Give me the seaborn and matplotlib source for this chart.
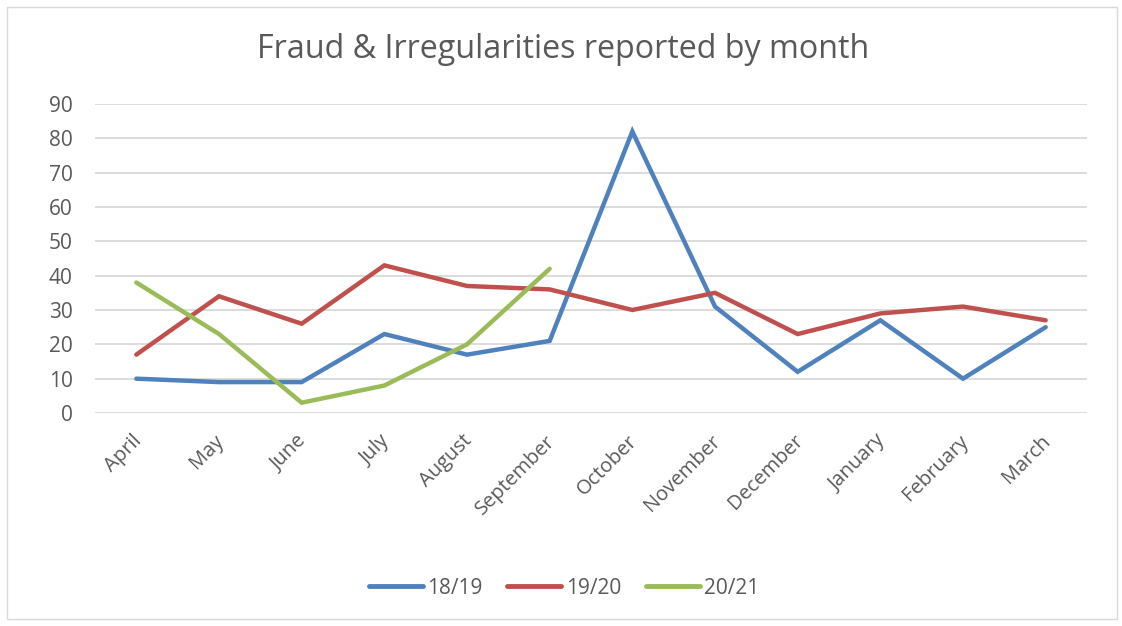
import matplotlib
matplotlib.use("Agg")
import matplotlib.pyplot as plt
import matplotlib.transforms as mtransforms
import seaborn as sns
import pandas as pd
import numpy as np
from matplotlib.patches import Rectangle

months = ["April", "May", "June", "July", "August", "September", "October",
          "November", "December", "January", "February", "March"]
s1819 = [10, 9, 9, 23, 17, 21, 82, 31, 12, 27, 10, 25]
s1920 = [17, 34, 26, 43, 37, 36, 30, 35, 23, 29, 31, 27]
s2021 = [38, 23, 3, 8, 20, 42]
series_names = ["18/19", "19/20", "20/21"]
colors = ["#4F81BD", "#C0504D", "#9BBB59"]
yticks = [0, 10, 20, 30, 40, 50, 60, 70, 80, 90]
title = "Fraud & Irregularities reported by month"

rows = []
for name, vals in zip(series_names, [s1819, s1920, s2021]):
    for m, v in zip(months, vals):
        rows.append({"Month": m, "Value": v, "Series": name})
df = pd.DataFrame(rows)
df["Month"] = pd.Categorical(df["Month"], categories=months, ordered=True)
df["x"] = df["Month"].cat.codes

sns.set_theme(style="white")
plt.rcParams["font.family"] = ["Open Sans", "DejaVu Sans"]

fig = plt.figure(figsize=(11.22, 6.26), dpi=100)
ax = fig.add_axes([95/1122, 1-413/626, 992/1122, 309/626])

sns.lineplot(data=df, x="x", y="Value", hue="Series", hue_order=series_names,
             palette=colors, linewidth=3.2, ax=ax, sort=True, legend=True,
             solid_capstyle="round", solid_joinstyle="miter")

ax.set_xlim(-0.5, 11.5)
ax.set_ylim(0, 90)
ax.set_yticks(yticks)
ax.set_xticks(range(len(months)))
ax.set_xticklabels(months, rotation=45, ha="right", rotation_mode="anchor",
                   fontsize=14.5, color="#595959")
ax.tick_params(axis="y", labelsize=15, labelcolor="#595959", length=0, pad=16)
ax.tick_params(axis="x", length=0, pad=13)
offset = mtransforms.ScaledTranslation(-5/100, 0, fig.dpi_scale_trans)
for lab in ax.get_xticklabels():
    lab.set_transform(lab.get_transform() + offset)
ax.set_xlabel("")
ax.set_ylabel("")
ax.yaxis.grid(True, color="#D9D9D9", linewidth=1.3)
ax.set_axisbelow(True)
for sp in ax.spines.values():
    sp.set_visible(False)

fig.text(563/1122, 1-50/626, title, ha="center", va="center",
         fontsize=23.2, color="#595959")

handles, labels = ax.get_legend_handles_labels()
ax.get_legend().remove()
leg = fig.legend(handles, labels, loc="center", bbox_to_anchor=(564/1122, 1-588/626),
                 ncol=3, frameon=False, fontsize=15, handlelength=2.6,
                 columnspacing=1.2, handletextpad=0.2)
for t in leg.get_texts():
    t.set_color("#595959")
for h in leg.legend_handles:
    h.set_linewidth(3.5)
    h.set_solid_capstyle("round")

fig.patches.append(Rectangle((7/1122, 7/626), 1110/1122, 612/626,
                             transform=fig.transFigure, fill=False,
                             edgecolor="#D9D9D9", linewidth=1.0))

fig.savefig("out.png", dpi=100)
